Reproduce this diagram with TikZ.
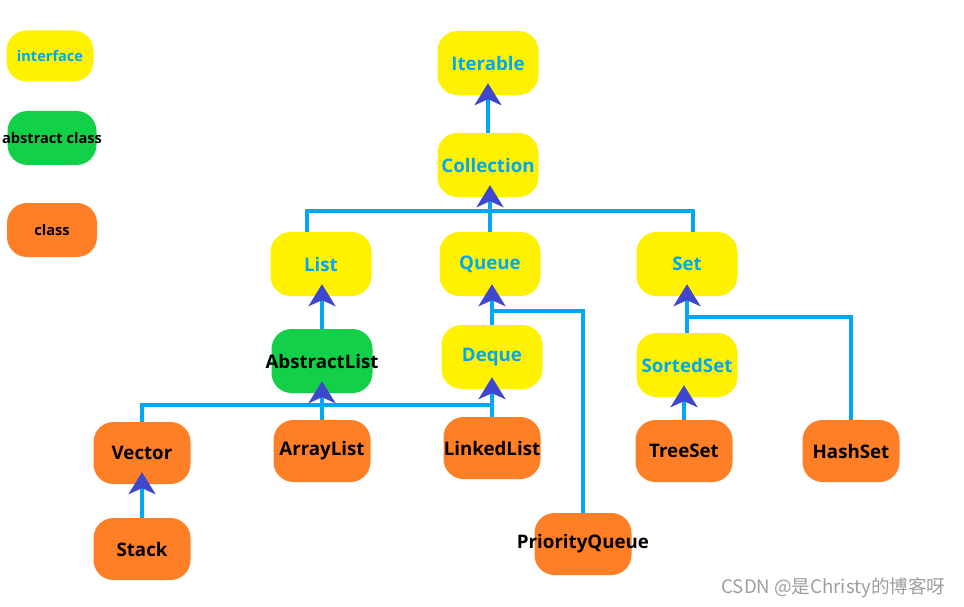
\documentclass[tikz,border=0pt]{standalone}
\usepackage{fontspec}
\setmainfont{Open Sans}
\newfontfamily\cjkfont{Noto Sans CJK SC}
\usetikzlibrary{arrows.meta}

\definecolor{ifyellow}{HTML}{FFF200}
\definecolor{absgreen}{HTML}{12D148}
\definecolor{clsorange}{HTML}{FF7F27}
\definecolor{linecyan}{HTML}{00A8F3}
\definecolor{tipblue}{HTML}{3F48CC}

\begin{document}
\begin{tikzpicture}[x=1pt, y=-1pt,
    box/.style={rounded corners=20pt, minimum width=101pt, minimum height=64pt,
        inner xsep=-20pt, inner ysep=0pt, font=\bfseries\fontsize{18.7}{22}\selectfont},
    iface/.style={box, fill=ifyellow, text=linecyan},
    abscls/.style={box, fill=absgreen, text=black},
    cls/.style={box, fill=clsorange, text=black, minimum width=97pt, minimum height=62pt},
    legendbox/.style={font=\bfseries\fontsize{14.6}{17}\selectfont, minimum height=54pt},
    link/.style={draw=linecyan, line width=3.5pt},
    inh/.style={link, -{Stealth[color=tipblue, length=22pt, width=27pt, inset=6pt]}, shorten >=-12pt},
]
\useasboundingbox (0,0) rectangle (964,607);

% legend
\node[iface, legendbox, minimum width=87pt, minimum height=51pt] (legIface) at (50,56) {interface};
\node[abscls, legendbox, minimum width=89pt] (legAbs) at (52,138) {abstract class};
\node[cls, legendbox, minimum width=90pt] (legCls) at (52,230) {class};

% interfaces
\node[iface] (Iterable) at (488,63) {Iterable};
\node[iface] (Collection) at (488,165) {Collection};
\node[iface] (List) at (321,264) {List};
\node[iface] (Queue) at (490,264) {Queue};
\node[iface] (Set) at (687,264) {Set};
\node[iface] (Deque) at (492,357) {Deque};
\node[iface] (SortedSet) at (687,365) {SortedSet};

% abstract class
\node[abscls] (AbstractList) at (322,361) {AbstractList};

% classes
\node[cls] (Vector) at (142,453) {Vector};
\node[cls] (Stack) at (142,549) {Stack};
\node[cls] (ArrayList) at (322,451) {ArrayList};
\node[cls] (LinkedList) at (492,448) {LinkedList};
\node[cls] (PriorityQueue) at (583,544) {PriorityQueue};
\node[cls] (TreeSet) at (684,451) {TreeSet};
\node[cls] (HashSet) at (851,451) {HashSet};

% bus lines
\coordinate (colBusL) at (307,211);
\coordinate (colBusR) at (693,211);
\coordinate (absBus) at (0,405);
\coordinate (pqBus) at (583,311);
\coordinate (hsBus) at (851,317);

\draw[inh] (Collection.north) -- (Collection.north |- Iterable.south);
\draw[link] (List.north -| colBusL) -- (colBusL) -- (colBusR) -- (Set.north -| colBusR);
\draw[inh] (Queue.north) -- (Queue.north |- Collection.south);
\draw[inh] (AbstractList.north) -- (AbstractList.north |- List.south);
\draw[link] (PriorityQueue.north) |- (Deque.north |- pqBus);
\draw[inh] (Deque.north) -- (Deque.north |- Queue.south);
\draw[link] (HashSet.north) |- (SortedSet.north |- hsBus);
\draw[inh] (SortedSet.north) -- (SortedSet.north |- Set.south);
\draw[link] (Vector.north) |- (LinkedList.north |- absBus);
\draw[inh] (ArrayList.north) -- (ArrayList.north |- AbstractList.south);
\draw[inh] (LinkedList.north) -- (LinkedList.north |- Deque.south);
\draw[inh] (TreeSet.north) -- (TreeSet.north |- SortedSet.south);
\draw[inh] (Stack.north) -- (Stack.north |- Vector.south);

% watermark
\node[text=black!38, font=\cjkfont\fontsize{18.6}{22}\selectfont, anchor=east] (mark) at (949,588) {CSDN @是Christy的博客呀};
\end{tikzpicture}
\end{document}
